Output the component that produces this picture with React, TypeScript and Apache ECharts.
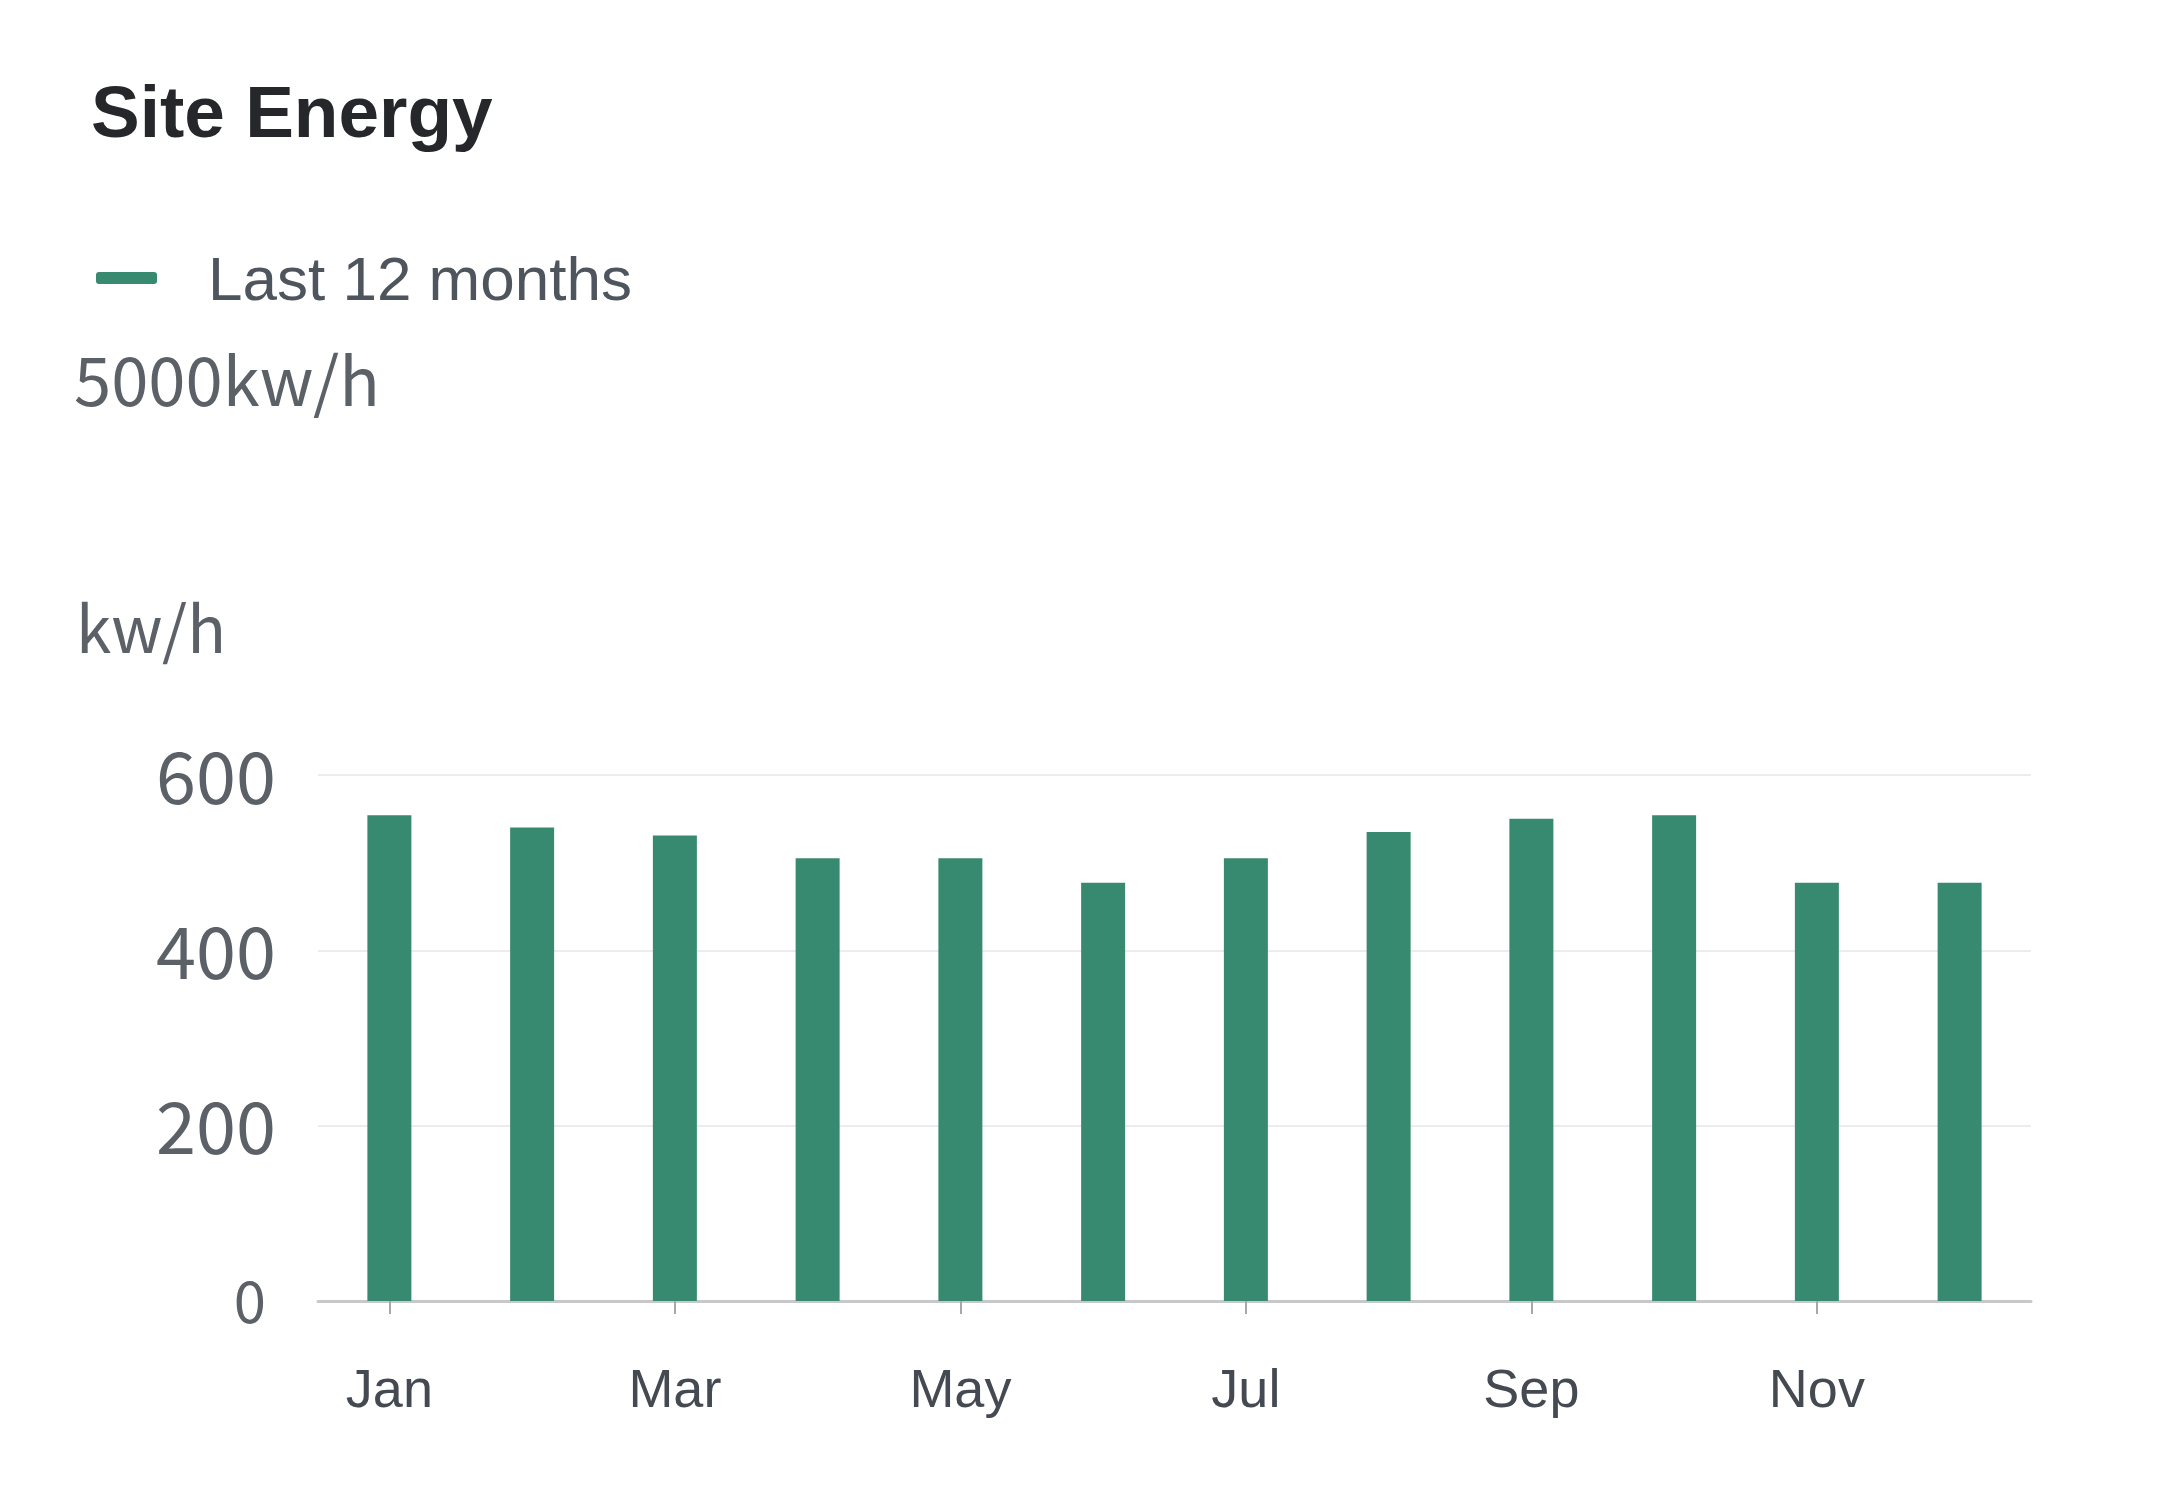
import React, { useEffect, useRef } from "react";
import * as echarts from "echarts";

const months = ["Jan", "Feb", "Mar", "Apr", "May", "Jun", "Jul", "Aug", "Sep", "Oct", "Nov", "Dec"];
const energy = [554, 540, 531, 505, 505, 477, 505, 535, 550, 554, 477, 477];
const seriesName = "Last 12 months";
const titleText = "Site Energy";
const totalText = "5000kw/h";
const unitText = "kw/h";
const yMin = 0;
const yMax = 600;
const yInterval = 200;

export default function App() {
  const ref = useRef<HTMLDivElement>(null);
  useEffect(() => {
    if (!ref.current) return;
    const chart = echarts.init(ref.current, undefined, { renderer: "svg" });
    chart.setOption({
      animation: false,
      backgroundColor: "#ffffff",
      title: {
        text: titleText,
        left: 86,
        top: 70,
        textStyle: {
          fontFamily: "Liberation Sans, Arial, sans-serif",
          fontWeight: "bold",
          fontSize: 73,
          color: "#25272b",
        },
      },
      legend: {
        left: 91,
        top: 242,
        icon: "roundRect",
        itemWidth: 61,
        itemHeight: 12,
        data: [seriesName],
        textStyle: {
          fontFamily: "Liberation Sans, Arial, sans-serif",
          fontSize: 62,
          color: "#4f555d",
          padding: [0, 0, 0, 46],
        },
      },
      graphic: [
        {
          type: "text",
          left: 74,
          top: 343,
          style: {
            text: totalText,
            font: "67px 'Noto Sans CJK JP', sans-serif",
            fill: "#5c6168",
          },
        },
      ],
      grid: { left: 318, right: 135, top: 775, bottom: 194, containLabel: false },
      xAxis: {
        type: "category",
        data: months,
        boundaryGap: true,
        axisLine: { show: true, lineStyle: { color: "#c8c8cb", width: 3 } },
        axisTick: {
          show: true,
          alignWithLabel: true,
          interval: 1,
          length: 13,
          lineStyle: { color: "#a8a8ac", width: 2 },
        },
        axisLabel: {
          interval: 1,
          margin: 60,
          fontFamily: "Liberation Sans, Arial, sans-serif",
          fontSize: 54,
          color: "#454a52",
        },
        splitLine: { show: false },
      },
      yAxis: {
        type: "value",
        min: yMin,
        max: yMax,
        interval: yInterval,
        name: unitText,
        nameLocation: "end",
        nameGap: 118,
        nameTextStyle: {
          fontFamily: "'Noto Sans CJK JP', sans-serif",
          fontSize: 64,
          color: "#5c6168",
          align: "right",
          padding: [0, 92, 0, 0],
        },
        axisLine: { show: false },
        axisTick: { show: false },
        axisLabel: {
          margin: 42,
          fontFamily: "'Noto Sans CJK JP', sans-serif",
          fontSize: 72,
          color: "#5c6168",
          padding: [0, 0, 6, 0],
          formatter: (v: number) => (v === 0 ? "{z|0}" : String(v)),
          rich: {
            z: {
              fontFamily: "'Noto Sans CJK JP', sans-serif",
              fontSize: 58,
              color: "#5c6168",
              padding: [0, 10, 0, 0],
            },
          },
        },
        splitLine: { lineStyle: { color: "#ececee", width: 2 } },
      },
      series: [
        {
          name: seriesName,
          type: "bar",
          data: energy,
          barWidth: 44,
          itemStyle: { color: "#378a6f" },
        },
      ],
    });
    return () => chart.dispose();
  }, []);
  return (
    <div
      ref={ref}
      style={{ position: "fixed", left: 0, top: 0, width: 2166, height: 1495 }}
    />
  );
}
